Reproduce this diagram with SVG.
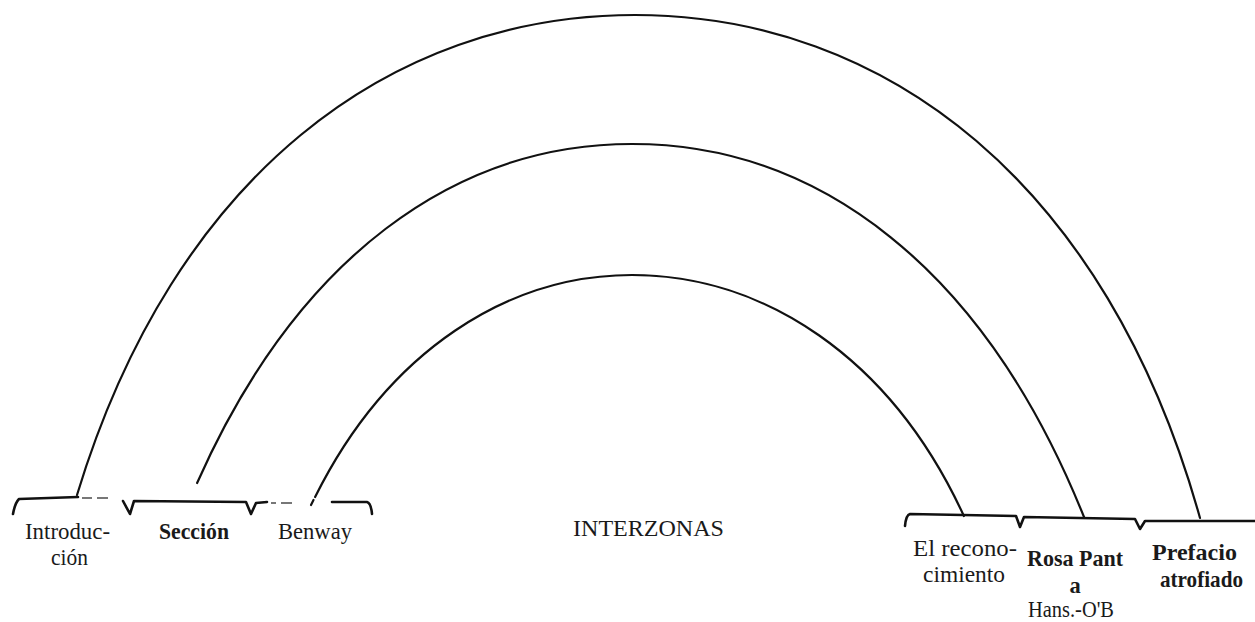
<svg xmlns="http://www.w3.org/2000/svg" width="1255" height="622" viewBox="0 0 1255 622">
  <style>
    .arc { fill: none; stroke: #111; stroke-width: 2.2; stroke-linecap: round; }
    .brk { fill: none; stroke: #111; stroke-width: 2.6; stroke-linejoin: round; stroke-linecap: round; }
    .dash { fill: none; stroke: #777; stroke-width: 2; }
    .lbl { font-family: "Liberation Serif", "Times New Roman", serif; font-size: 22.5px; fill: #1a1a1a; }
    .b { font-weight: bold; }
  </style>
  <rect width="1255" height="622" fill="#ffffff"/>

  <g id="connectors">
    <path id="arc-outer" class="arc" d="M77,495 C174,175 390.7,15 635,15 C885,15 1106.5,182.6 1200,518"/>
    <path id="arc-middle" class="arc" d="M197.1,483 C297.3,257 454.9,144 632,144 C819,144 984.2,268.4 1084,517"/>
    <path id="arc-inner" class="arc" d="M315.1,497 C388.9,349 509.5,275 632,275 C761.9,275 889.9,355.4 963.9,516"/>
    <path class="arc" d="M313.5,500 L311,505"/>
  </g>

  <g id="bracket-left">
    <path class="brk" d="M13,514 Q15,503 19,499 L78,497"/>
    <path class="dash" d="M82,498 L92,498 M97,498 L108,498"/>
    <path class="brk" d="M123,501 L130,514 L134,501 L246,502 L251,514 L256,503 L267,502"/>
    <path class="dash" d="M271,503 L276,503 M281,503 L292,503"/>
    <path class="brk" d="M332,502 L367,502 Q371,503 372,514"/>
  </g>

  <g id="bracket-right">
    <path class="brk" d="M905,526 Q906,515 910,514 L1016,516 L1020,527 L1024,517 L1135,519 L1140,529 L1145,521 L1255,521"/>
  </g>

  <g id="node-introduccion">
    <text class="lbl" x="25" y="539" textLength="85" lengthAdjust="spacingAndGlyphs">Introduc-</text>
    <text class="lbl" x="51" y="565" textLength="37" lengthAdjust="spacingAndGlyphs">ción</text>
  </g>
  <g id="node-seccion">
    <text class="lbl b" x="159" y="539" textLength="70" lengthAdjust="spacingAndGlyphs">Sección</text>
  </g>
  <g id="node-benway">
    <text class="lbl" x="278" y="539" textLength="74" lengthAdjust="spacingAndGlyphs">Benway</text>
  </g>
  <g id="node-interzonas">
    <text class="lbl" x="573" y="536" textLength="151" lengthAdjust="spacingAndGlyphs">INTERZONAS</text>
  </g>
  <g id="node-reconocimiento">
    <text class="lbl" x="913" y="556" textLength="104" lengthAdjust="spacingAndGlyphs">El recono-</text>
    <text class="lbl" x="923" y="582" textLength="82" lengthAdjust="spacingAndGlyphs">cimiento</text>
  </g>
  <g id="node-rosa-pant">
    <text class="lbl b" x="1027" y="566" textLength="96" lengthAdjust="spacingAndGlyphs">Rosa Pant</text>
    <text class="lbl b" x="1075" y="593" font-size="13" text-anchor="middle">a</text>
    <text class="lbl" x="1028" y="617" textLength="86" lengthAdjust="spacingAndGlyphs">Hans.-O'B</text>
  </g>
  <g id="node-prefacio">
    <text class="lbl b" x="1152" y="560" textLength="85" lengthAdjust="spacingAndGlyphs">Prefacio</text>
    <text class="lbl b" x="1160" y="587" textLength="83" lengthAdjust="spacingAndGlyphs">atrofiado</text>
  </g>
</svg>
